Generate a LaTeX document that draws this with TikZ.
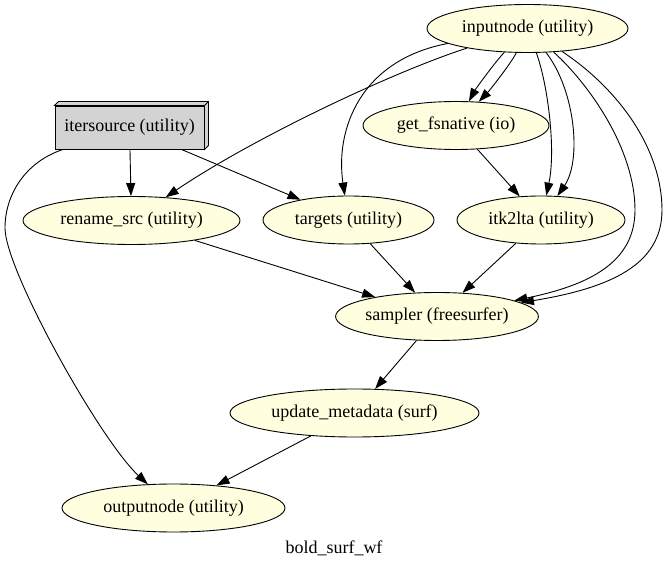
\documentclass[tikz,border=0pt]{standalone}
\usepackage{fontspec}
\setmainfont{Liberation Serif}
\usetikzlibrary{shapes.geometric,arrows.meta}
\definecolor{lightyel}{HTML}{FFFFE0}
\definecolor{boxgray}{HTML}{D3D3D3}
\begin{document}
\begin{tikzpicture}[x=1pt,y=-1pt,
  gvell/.style={ellipse, draw, line width=0.9pt, fill=lightyel, minimum height=48pt, inner sep=0pt,
    font=\fontsize{18}{20}\selectfont},
  gvbox/.style={rectangle, draw, line width=0.9pt, fill=boxgray, minimum width=149pt, minimum height=43pt, inner sep=0pt,
    font=\fontsize{18}{20}\selectfont},
  gvarrow/.style={draw, line width=0.9pt, -{Triangle[length=13pt,width=9pt]}}]
\useasboundingbox (0,0) rectangle (667,569);
% nodes
\node[gvell, minimum width=201pt] (inputnode) at (527.5,28.5) {inputnode (utility)};
\node[gvell, minimum width=186pt] (getfs) at (456,125.5) {get\_fsnative (io)};
\node[gvbox] (itersource) at (129.5,127.5) {itersource (utility)};
\draw[line width=0.9pt, fill=boxgray] (itersource.north west) -- ++(4pt,4pt)
  -- ([shift={(4pt,4pt)}]itersource.north east) -- ([shift={(4pt,4pt)}]itersource.south east)
  -- (itersource.south east) -- (itersource.north east) -- cycle;
\draw[line width=0.9pt] (itersource.north east) -- ++(4pt,4pt);
\node[gvell, minimum width=217pt] (rename) at (131.5,220.5) {rename\_src (utility)};
\node[gvell, minimum width=171pt] (targets) at (348.5,220) {targets (utility)};
\node[gvell, minimum width=168pt] (itk2lta) at (541,220) {itk2lta (utility)};
\node[gvell, minimum width=202pt] (sampler) at (437,316.5) {sampler (freesurfer)};
\node[gvell, minimum width=249pt] (update) at (354.5,413) {update\_metadata (surf)};
\node[gvell, minimum width=223pt] (outputnode) at (173.5,508) {outputnode (utility)};
\node[font=\fontsize{18}{20}\selectfont] (title) at (334,548) {bold\_surf\_wf};
% edges from itersource
\draw[gvarrow] (itersource) -- (rename);
\draw[gvarrow] (itersource) -- (targets);
\draw[gvarrow] (itersource) .. controls (25,162) and (5,195) .. (5,228)
  .. controls (5,270) and (100,440) .. (outputnode);
% edges from inputnode
\draw[gvarrow] (inputnode) .. controls (390,73) and (250,140) .. (rename);
\draw[gvarrow] (inputnode) .. controls (360,60) and (335,130) .. (targets);
\draw[gvarrow] (inputnode) .. controls (495,62) and (475,90) .. (getfs);
\draw[gvarrow] (inputnode) .. controls (512,62) and (490,90) .. (getfs);
\draw[gvarrow] (inputnode) .. controls (548,85) and (556,150) .. (itk2lta);
\draw[gvarrow] (inputnode) .. controls (575,90) and (582,160) .. (itk2lta);
\draw[gvarrow] (inputnode) .. controls (590,85) and (635,150) .. (635,210)
  .. controls (635,262) and (590,285) .. (sampler);
\draw[gvarrow] (inputnode) .. controls (620,90) and (662,150) .. (662,210)
  .. controls (662,265) and (610,288) .. (sampler);
% other edges
\draw[gvarrow] (getfs) -- (itk2lta);
\draw[gvarrow] (rename) -- (sampler);
\draw[gvarrow] (targets) -- (sampler);
\draw[gvarrow] (itk2lta) -- (sampler);
\draw[gvarrow] (sampler) -- (update);
\draw[gvarrow] (update) -- (outputnode);
\end{tikzpicture}
\end{document}
